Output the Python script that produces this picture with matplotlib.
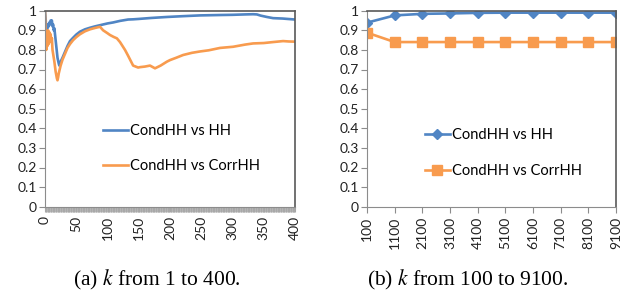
import matplotlib
matplotlib.use("Agg")
import matplotlib.pyplot as plt
from matplotlib.ticker import MultipleLocator

# ---------------- data ----------------
k_left = [0, 1, 2, 3, 4, 5, 6, 7, 8, 9, 10, 11, 12, 13, 14, 15, 16, 18, 20, 22, 23, 25,
          28, 32, 36, 40, 45, 50, 56, 64, 72, 80, 88, 100, 109, 120, 133, 141, 150, 170,
          195, 220, 248, 264, 280, 300, 320, 333, 339, 345, 355, 365, 380, 400]
hh_left = [1.0, 0.96, 0.90, 0.92, 0.91, 0.93, 0.92, 0.94, 0.93, 0.95, 0.94, 0.95, 0.92,
           0.93, 0.90, 0.91, 0.88, 0.82, 0.76, 0.73, 0.72, 0.74, 0.76, 0.79, 0.82, 0.845,
           0.862, 0.878, 0.893, 0.905, 0.913, 0.92, 0.926, 0.935, 0.94, 0.948, 0.955,
           0.956, 0.958, 0.963, 0.968, 0.972, 0.976, 0.977, 0.978, 0.979, 0.981, 0.982,
           0.981, 0.975, 0.968, 0.962, 0.960, 0.955]

k_left_c = [0, 1, 2, 3, 4, 5, 6, 7, 8, 9, 10, 11, 12, 13, 15, 17, 19, 20, 21, 22, 25, 28,
            32, 36, 40, 45, 50, 56, 64, 72, 80, 88, 93, 100, 104, 110, 115, 120, 128, 133,
            141, 149, 152, 160, 168, 176, 185, 195, 200, 210, 221, 235, 248, 262, 280,
            301, 320, 333, 350, 365, 381, 390, 400]
corr_left = [1.0, 0.86, 0.80, 0.88, 0.82, 0.90, 0.83, 0.89, 0.85, 0.88, 0.84, 0.86, 0.80,
             0.78, 0.74, 0.69, 0.655, 0.645, 0.66, 0.68, 0.72, 0.75, 0.78, 0.81, 0.83,
             0.85, 0.865, 0.88, 0.895, 0.905, 0.912, 0.918, 0.90, 0.885, 0.876, 0.866,
             0.859, 0.84, 0.80, 0.77, 0.72, 0.71, 0.712, 0.715, 0.72, 0.706, 0.72, 0.74,
             0.748, 0.76, 0.774, 0.785, 0.792, 0.798, 0.81, 0.816, 0.827, 0.833, 0.835,
             0.84, 0.845, 0.843, 0.842]

k_right_labels = ["100", "1100", "2100", "3100", "4100", "5100", "6100", "7100", "8100", "9100"]
hh_right = [0.939, 0.976, 0.984, 0.986, 0.989, 0.99, 0.99, 0.99, 0.99, 0.99]
corr_right = [0.888, 0.84, 0.84, 0.84, 0.84, 0.84, 0.84, 0.84, 0.84, 0.84]

y_ticks = [0, 0.1, 0.2, 0.3, 0.4, 0.5, 0.6, 0.7, 0.8, 0.9, 1]
y_labels = ["0", "0.1", "0.2", "0.3", "0.4", "0.5", "0.6", "0.7", "0.8", "0.9", "1"]
left_xticks = [0, 50, 100, 150, 200, 250, 300, 350, 400]

series_names = ["CondHH vs HH", "CondHH vs CorrHH"]
captions = ["(a) $k$ from 1 to 400.", "(b) $k$ from 100 to 9100."]

# ---------------- style ----------------
BLUE = "#5085C4"
ORANGE = "#F89B4E"
FONT = "Lato"
plt.rcParams["font.family"] = [FONT, "DejaVu Sans"]
plt.rcParams["mathtext.fontset"] = "stix"
TICK_FS = 10
LEG_FS = 10.5

W, H = 629, 296
fig = plt.figure(figsize=(W / 100, H / 100), dpi=100)


def px_axes(x0, x1, y0, y1):
    return fig.add_axes([x0 / W, 1 - y1 / H, (x1 - x0) / W, (y1 - y0) / H])


def style_axes(ax):
    ax.set_ylim(0, 1)
    ax.set_yticks(y_ticks)
    ax.set_yticklabels(y_labels)
    for s in ["top", "right"]:
        ax.spines[s].set_color("#595959")
        ax.spines[s].set_linewidth(1.2)
    ax.spines["left"].set_color("#8C8C8C")
    ax.spines["bottom"].set_color("#8C8C8C")
    ax.tick_params(axis="y", direction="out", length=4, color="#8C8C8C",
                   labelsize=TICK_FS, pad=2, labelcolor="#222222")
    ax.tick_params(axis="x", labelsize=TICK_FS, labelcolor="#222222")


# left chart
ax1 = px_axes(45, 295, 10.7, 206.7)
l1, = ax1.plot(k_left, hh_left, color=BLUE, lw=1.9, solid_joinstyle="round")
l2, = ax1.plot(k_left_c, corr_left, color=ORANGE, lw=1.9, solid_joinstyle="round")
ax1.set_xlim(0, 400)
style_axes(ax1)
ax1.set_xticks(left_xticks)
ax1.set_xticklabels([str(v) for v in left_xticks], rotation=90)
ax1.xaxis.set_minor_locator(MultipleLocator(1))
ax1.tick_params(axis="x", which="major", direction="out", length=3.5,
                color="#A6A6A6", pad=3)
ax1.tick_params(axis="x", which="minor", direction="out", length=3.5,
                color="#A6A6A6", width=0.6)
ax1.legend([l1, l2], series_names, loc="center left",
           bbox_to_anchor=(0.232, 0.298), frameon=False, fontsize=LEG_FS,
           handlelength=1.7, handletextpad=0.12, labelspacing=1.45,
           borderpad=0, borderaxespad=0)

# right chart
ax2 = px_axes(367, 616, 10.7, 206.7)
xi = list(range(len(k_right_labels)))
r1, = ax2.plot(xi, hh_right, color=BLUE, lw=1.9, marker="D", markersize=5.5)
r2, = ax2.plot(xi, corr_right, color=ORANGE, lw=1.9, marker="s", markersize=6.5)
ax2.set_xlim(0, len(k_right_labels) - 1)
style_axes(ax2)
ax2.set_xticks(xi)
ax2.set_xticklabels(k_right_labels, rotation=90)
ax2.tick_params(axis="x", direction="out", length=4, color="#8C8C8C", pad=3)
ax2.legend([r1, r2], series_names, loc="center left",
           bbox_to_anchor=(0.233, 0.275), frameon=False, fontsize=LEG_FS,
           handlelength=1.7, handletextpad=0.12, labelspacing=1.5,
           borderpad=0, borderaxespad=0)

for ax in (ax1, ax2):
    for lab in ax.get_xticklabels():
        lab.set_clip_on(False)

# captions
fig.text(157 / W, 1 - 280 / H, captions[0], ha="center", va="center",
         fontsize=15.5, family="Liberation Serif")
fig.text(468 / W, 1 - 280 / H, captions[1], ha="center", va="center",
         fontsize=15.5, family="Liberation Serif")

fig.savefig("out.png", dpi=100)
